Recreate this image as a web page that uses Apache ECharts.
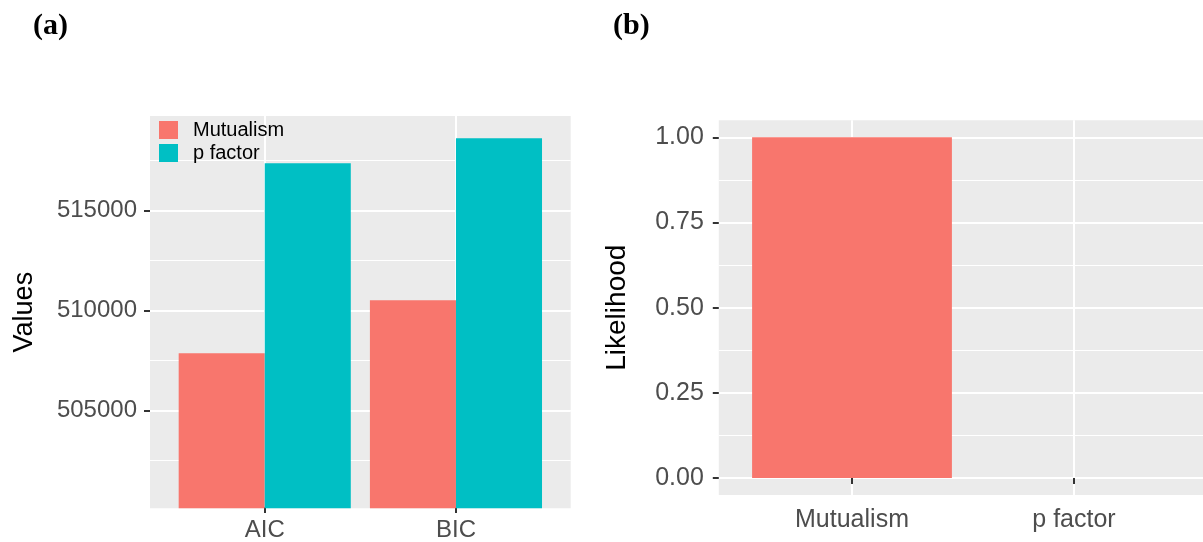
<!DOCTYPE html>
<html><head><meta charset="utf-8">
<script src="https://cdn.jsdelivr.net/npm/echarts@6/dist/echarts.min.js"></script>
<style>html,body{margin:0;padding:0;background:#fff}#c{width:1203px;height:542px}</style>
</head><body><div id="c"></div>
<script>
// ---------- data ----------
const aCategories = ['AIC', 'BIC'];
const aMutualism = [507870, 510520];
const aPFactor = [517370, 518620];
const aYTicks = [505000, 510000, 515000];
const aYTickLabels = ['505000', '510000', '515000'];
const aYLimits = [500120, 519735];

const bCategories = ['Mutualism', 'p factor'];
const bLikelihood = [1.0, 0.0];
const bYTicks = [0, 0.25, 0.5, 0.75, 1];
const bYTickLabels = ['0.00', '0.25', '0.50', '0.75', '1.00'];
const bYLimits = [-0.05, 1.05];

const seriesNames = ['Mutualism', 'p factor'];
const colors = ['#F8766D', '#00BFC4'];

// ---------- layout ----------
const FONT = 'Liberation Sans';
const PANEL_BG = '#EBEBEB';
const panelA = {left: 150, top: 116, width: 420.7, height: 392.3,
  ylim: aYLimits, ticks: aYTicks, labels: aYTickLabels, cats: aCategories,
  tickFont: 24, xFont: 24, yMargin: 13, xMargin: 11,
  name: 'Values', nameFont: 27, nameGap: 112};
const panelB = {left: 718.8, top: 120.3, width: 488.4, height: 374.8,
  ylim: bYLimits, ticks: bYTicks, labels: bYTickLabels, cats: bCategories,
  tickFont: 25, xFont: 25, yMargin: 15, xMargin: 13,
  name: 'Likelihood', nameFont: 28, nameGap: 88};

const grid = [], xAxis = [], yAxis = [], series = [];
function addGrid(g) {
  grid.push(Object.assign({show: false, borderWidth: 0, containLabel: false}, g));
  return grid.length - 1;
}
const hiddenValueX = gi => ({gridIndex: gi, type: 'value', show: false});
const hiddenValueY = (gi, lim) => ({gridIndex: gi, type: 'value', show: false, min: lim[0], max: lim[1]});

function buildPanel(p) {
  const n = p.cats.length;
  const xl = [0.4, n + 0.6];
  const xPix = u => p.left + (u - xl[0]) / (xl[1] - xl[0]) * p.width;
  const yPix = v => p.top + (p.ylim[1] - v) / (p.ylim[1] - p.ylim[0]) * p.height;
  const t0 = p.ticks[0], t1 = p.ticks[p.ticks.length - 1];
  const step = p.ticks[1] - p.ticks[0];

  // background panel + axis title
  const gBg = addGrid({left: p.left, top: p.top, width: p.width, height: p.height,
    show: true, backgroundColor: PANEL_BG});
  xAxis.push(hiddenValueX(gBg));
  yAxis.push({gridIndex: gBg, type: 'value', min: p.ylim[0], max: p.ylim[1],
    name: p.name, nameLocation: 'middle', nameGap: p.nameGap,
    nameTextStyle: {fontFamily: FONT, fontSize: p.nameFont, color: '#000'},
    axisLine: {show: false}, axisTick: {show: false}, axisLabel: {show: false}, splitLine: {show: false}});

  // minor horizontal grid lines
  const lo = (t0 - step / 2 >= p.ylim[0]) ? t0 - step / 2 : t0 + step / 2;
  const hi = (t1 + step / 2 <= p.ylim[1]) ? t1 + step / 2 : t1 - step / 2;
  const gMin = addGrid({left: p.left, width: p.width, top: yPix(hi), height: yPix(lo) - yPix(hi)});
  xAxis.push(hiddenValueX(gMin));
  yAxis.push({gridIndex: gMin, type: 'value', min: lo, max: hi, interval: step / 2, z: 1,
    axisLine: {show: false}, axisTick: {show: false}, axisLabel: {show: false},
    splitLine: {show: true, lineStyle: {color: '#FFFFFF', width: 1}}});

  // major horizontal grid lines + y tick labels
  const gMaj = addGrid({left: p.left, width: p.width, top: yPix(t1), height: yPix(t0) - yPix(t1)});
  xAxis.push(hiddenValueX(gMaj));
  yAxis.push({gridIndex: gMaj, type: 'value', min: t0, max: t1, interval: step, z: 1,
    axisLine: {show: false},
    axisTick: {show: true, length: 6, lineStyle: {color: '#333333', width: 2}},
    axisLabel: {show: true, margin: p.yMargin, fontFamily: FONT, fontSize: p.tickFont, color: '#4D4D4D',
      formatter: v => { const i = p.ticks.findIndex(t => Math.abs(t - v) < 1e-9); return i >= 0 ? p.labels[i] : ''; }},
    splitLine: {show: true, lineStyle: {color: '#FFFFFF', width: 2}}});

  // vertical grid lines + x tick labels at category centres
  const gX = addGrid({left: xPix(1), width: xPix(n) - xPix(1), top: p.top, height: p.height});
  xAxis.push({gridIndex: gX, type: 'category', data: p.cats, boundaryGap: false, z: 1,
    axisLine: {show: false},
    axisTick: {show: true, length: 6, lineStyle: {color: '#333333', width: 2}},
    axisLabel: {show: true, margin: p.xMargin, fontFamily: FONT, fontSize: p.xFont, color: '#4D4D4D', interval: 0},
    splitLine: {show: true, interval: 0, lineStyle: {color: '#FFFFFF', width: 2}}});
  yAxis.push(hiddenValueY(gX, p.ylim));

  // data grid (bars)
  const gD = addGrid({left: xPix(0.5), width: xPix(n + 0.5) - xPix(0.5), top: p.top, height: p.height});
  xAxis.push({gridIndex: gD, type: 'category', data: p.cats, boundaryGap: true, show: false});
  yAxis.push(hiddenValueY(gD, p.ylim));
  return gD;
}

const gA = buildPanel(panelA);
const gB = buildPanel(panelB);

series.push({type: 'bar', name: seriesNames[0], xAxisIndex: gA, yAxisIndex: gA, data: aMutualism,
  barWidth: '45%', barGap: '0%', itemStyle: {color: colors[0]}, z: 3, silent: true});
series.push({type: 'bar', name: seriesNames[1], xAxisIndex: gA, yAxisIndex: gA, data: aPFactor,
  barWidth: '45%', barGap: '0%', itemStyle: {color: colors[1]}, z: 3, silent: true});
series.push({type: 'bar', name: 'Likelihood', xAxisIndex: gB, yAxisIndex: gB,
  data: bLikelihood.map((v, i) => ({value: v, itemStyle: {color: colors[i]}})),
  barWidth: '90%', z: 3, silent: true});

const chart = echarts.init(document.getElementById('c'), null, {renderer: 'canvas'});
chart.setOption({
  animation: false,
  backgroundColor: '#FFFFFF',
  title: [
    {text: '(a)', left: 33, top: 11, padding: 0,
     textStyle: {fontFamily: 'Liberation Serif', fontWeight: 'bold', fontSize: 30, color: '#000'}},
    {text: '(b)', left: 613, top: 11, padding: 0,
     textStyle: {fontFamily: 'Liberation Serif', fontWeight: 'bold', fontSize: 30, color: '#000'}}
  ],
  legend: {data: seriesNames, orient: 'vertical', left: 159, top: 120, padding: 0,
    itemWidth: 19, itemHeight: 18, itemGap: 3, icon: 'rect', selectedMode: false,
    textStyle: {fontFamily: FONT, fontSize: 20, color: '#000', padding: [0, 0, 0, 10]}},
  grid, xAxis, yAxis, series
});
</script></body></html>
